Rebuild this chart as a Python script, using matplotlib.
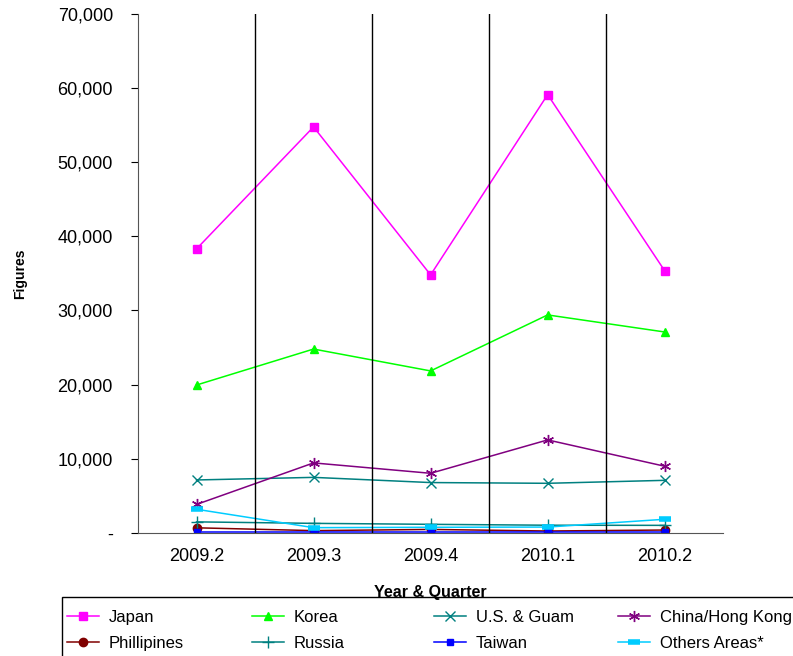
import numpy as np
import matplotlib.pyplot as plt
from matplotlib.patches import Rectangle
from matplotlib.ticker import FuncFormatter

plt.rcParams['font.family'] = ['Liberation Sans', 'DejaVu Sans']

quarters = ['2009.2', '2009.3', '2009.4', '2010.1', '2010.2']
japan = [38300, 54750, 34800, 59100, 35350]
korea = [19950, 24800, 21850, 29400, 27100]
us_guam = [7150, 7500, 6800, 6700, 7100]
china_hk = [3850, 9450, 8050, 12550, 9000]
phillipines = [700, 320, 480, 270, 400]
russia = [1500, 1300, 1170, 1050, 1030]
taiwan = [100, 100, 100, 100, 100]
others = [3200, 720, 770, 800, 1850]

series = [
    ('Japan', japan, '#FF00FF', 's', 6, 1),
    ('Korea', korea, '#00FF00', '^', 6, 1),
    ('U.S. & Guam', us_guam, '#008080', 'x', 7, 1),
    ('China/Hong Kong', china_hk, '#800080', (6, 2, 0), 8, 1),
    ('Phillipines', phillipines, '#800000', 'o', 6, 1),
    ('Russia', russia, '#008080', '+', 9, 1),
    ('Taiwan', taiwan, '#0000FF', 's', 4, 1),
    ('Others Areas*', others, '#00CCFF', '_', 8, 4),
]

fig = plt.figure(figsize=(7.93, 6.56), dpi=100)
ax = fig.add_axes([0.174, 0.1875, 0.738, 0.7915])

x = np.arange(len(quarters))
lines = {}
for name, vals, col, mk, ms, mew in series:
    ln, = ax.plot(x, vals, color=col, marker=mk, markersize=ms,
                  markeredgewidth=mew, linewidth=1.1, label=name)
    lines[name] = ln

ax.set_xlim(-0.5, len(quarters) - 0.5)
ax.set_ylim(0, 70000)
ax.set_yticks(np.arange(0, 70001, 10000))
ax.yaxis.set_major_formatter(FuncFormatter(lambda v, p: '-' if v == 0 else f'{int(v):,}'))
ax.set_xticks(x)
ax.set_xticklabels(quarters)
ax.tick_params(axis='x', length=0, labelsize=13, pad=11)
ax.tick_params(axis='y', labelsize=13, direction='out', length=5, pad=13)

for b in np.arange(0.5, len(quarters) - 1, 1.0):
    ax.axvline(b, color='black', linewidth=1)

ax.spines['top'].set_visible(False)
ax.spines['right'].set_visible(False)
ax.spines['left'].set_color('#555555')
ax.spines['bottom'].set_color('#555555')

ax.set_ylabel('Figures', fontsize=10, fontweight='bold')
ax.yaxis.set_label_coords(-0.19, 0.5)
ax.set_xlabel('Year & Quarter', fontsize=11.5, fontweight='bold', labelpad=14)

# legend: 4 fixed-width columns inside one frame
W, H = 793.0, 656.0
fig.patches.append(Rectangle((62 / W, -0.02), 1.0, (H - 597) / H + 0.02,
                             transform=fig.transFigure, fill=False,
                             edgecolor='black', linewidth=1))
cols = [['Japan', 'Phillipines'], ['Korea', 'Russia'],
        ['U.S. & Guam', 'Taiwan'], ['China/Hong Kong', 'Others Areas*']]
col_x = [67, 252, 434, 618]
for names, cx in zip(cols, col_x):
    fig.legend([lines[n] for n in names], names, loc='upper left',
               bbox_to_anchor=(cx / W, 1 - 610 / H), frameon=False,
               fontsize=12, borderpad=0, borderaxespad=0,
               handlelength=1.9, handletextpad=0.6, labelspacing=0.65)

fig.savefig('out.png', dpi=100)
